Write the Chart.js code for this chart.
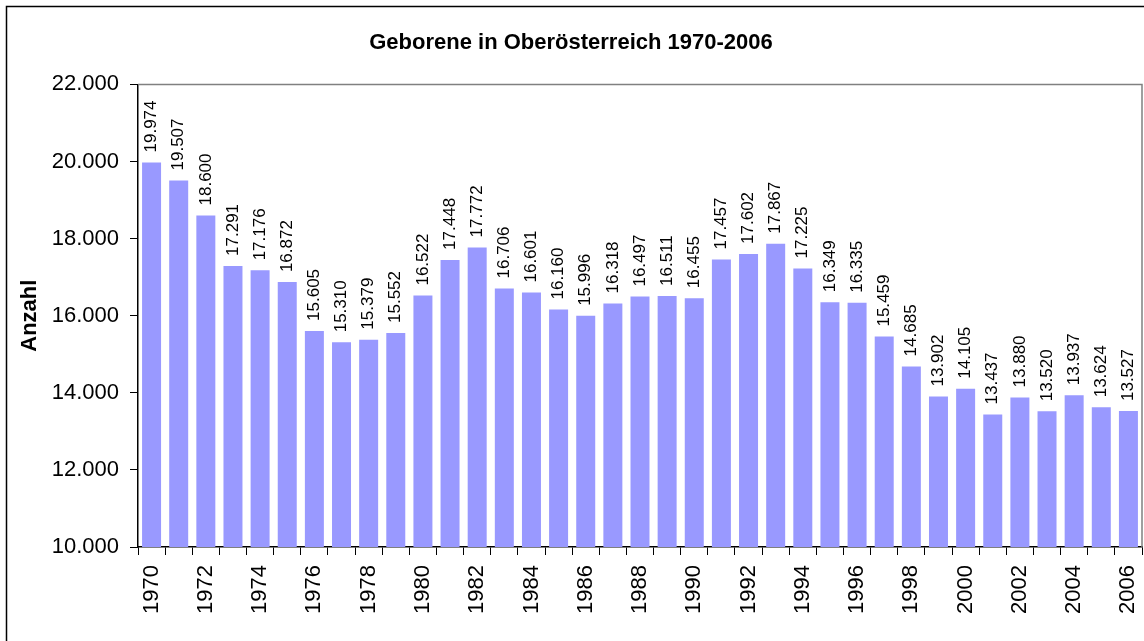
<!DOCTYPE html>
<html>
<head>
<meta charset="utf-8">
<script src="https://cdn.jsdelivr.net/npm/chart.js@4/dist/chart.umd.min.js"></script>
<style>
  html, body { margin: 0; padding: 0; background: #fff; }
  #wrap { width: 1144px; height: 641px; position: relative; }
</style>
</head>
<body>
<div id="wrap"><canvas id="birthChart"></canvas></div>
<script>
// Geborene in Oberösterreich, 1970-2006
var years = ["1970", "1971", "1972", "1973", "1974", "1975", "1976", "1977", "1978", "1979",
    "1980", "1981", "1982", "1983", "1984", "1985", "1986", "1987", "1988", "1989",
    "1990", "1991", "1992", "1993", "1994", "1995", "1996", "1997", "1998", "1999",
    "2000", "2001", "2002", "2003", "2004", "2005", "2006"];
var births = [19974, 19507, 18600, 17291, 17176, 16872, 15605, 15310, 15379, 15552,
    16522, 17448, 17772, 16706, 16601, 16160, 15996, 16318, 16497, 16511,
    16455, 17457, 17602, 17867, 17225, 16349, 16335, 15459, 14685, 13902,
    14105, 13437, 13880, 13520, 13937, 13624, 13527];
var yMin = 10000, yMax = 22000, yStep = 2000;

var fontName = "'Liberation Sans', Arial, sans-serif";

function fmt(n) {
    // 19974 -> "19.974"
    return String(Math.round(n)).replace(/\B(?=(\d{3})+(?!\d))/g, ".");
}

// frame round the whole object + gray border on top/right of plot area
var framePlugin = {
    id: 'frame',
    afterDraw: function (chart) {
        var ctx = chart.ctx, a = chart.chartArea;
        ctx.save();
        ctx.strokeStyle = '#000';
        ctx.lineWidth = 1.5;
        ctx.beginPath();
        ctx.moveTo(6.5, chart.height + 2);
        ctx.lineTo(6.5, 6.5);
        ctx.lineTo(chart.width + 2, 6.5);
        ctx.stroke();
        ctx.strokeStyle = '#808080';
        ctx.lineWidth = 1.5;
        ctx.beginPath();
        ctx.moveTo(a.left, a.top);
        ctx.lineTo(a.right, a.top);
        ctx.lineTo(a.right, a.bottom);
        ctx.stroke();
        ctx.restore();
    }
};

// value labels, rotated, above each bar
var valueLabels = {
    id: 'valueLabels',
    afterDatasetsDraw: function (chart) {
        var ctx = chart.ctx;
        var meta = chart.getDatasetMeta(0);
        ctx.save();
        ctx.fillStyle = '#000';
        ctx.font = '17px ' + fontName;
        ctx.textAlign = 'left';
        ctx.textBaseline = 'middle';
        meta.data.forEach(function (bar, i) {
            ctx.save();
            ctx.translate(bar.x, bar.y - 10);
            ctx.rotate(-Math.PI / 2);
            ctx.fillText(fmt(births[i]), 0, 0);
            ctx.restore();
        });
        ctx.restore();
    }
};

var myBarChart = new Chart('birthChart', {
    type: 'bar',
    data: {
        labels: years,
        datasets: [{
            label: "Geborene",
            data: births,
            backgroundColor: '#9999FF',
            borderWidth: 0,
            barPercentage: 0.7,
            categoryPercentage: 1.0
        }]
    },
    options: {
        responsive: true,
        maintainAspectRatio: false,
        animation: false,
        layout: {
            padding: { left: 0, right: 2, top: 22, bottom: 0 }
        },
        plugins: {
            legend: { display: false },
            tooltip: { enabled: false },
            title: {
                display: true,
                text: 'Geborene in Oberösterreich 1970-2006',
                color: '#000',
                font: { family: fontName, size: 22, weight: 'bold', lineHeight: 1.2 },
                padding: { top: 8, bottom: 28 }
            }
        },
        scales: {
            x: {
                grid: {
                    display: true,
                    offset: true,
                    drawOnChartArea: false,
                    drawTicks: true,
                    tickLength: 8,
                    color: '#000'
                },
                border: { display: true, color: '#000', width: 1.5 },
                ticks: {
                    autoSkip: false,
                    maxRotation: 90,
                    minRotation: 90,
                    padding: 10,
                    color: '#000',
                    font: { family: fontName, size: 22 },
                    callback: function (v, i) {
                        return i % 2 === 0 ? years[i] : '';
                    }
                },
                afterFit: function (scale) {
                    scale.height = 94;
                    scale.paddingLeft = 0;
                    scale.paddingRight = 0;
                }
            },
            y: {
                min: yMin,
                max: yMax,
                grid: {
                    display: true,
                    drawOnChartArea: false,
                    drawTicks: true,
                    tickLength: 8,
                    color: '#000'
                },
                border: { display: true, color: '#000', width: 1.5 },
                ticks: {
                    stepSize: yStep,
                    padding: 11,
                    color: '#000',
                    font: { family: fontName, size: 22 },
                    callback: function (v) { return fmt(v); }
                },
                title: {
                    display: true,
                    text: 'Anzahl',
                    color: '#000',
                    font: { family: fontName, size: 22, weight: 'bold', lineHeight: 1.2 },
                    padding: { top: 17, bottom: 0 }
                },
                afterFit: function (scale) {
                    scale.width = 138;
                    scale.paddingTop = 0;
                    scale.paddingBottom = 0;
                }
            }
        }
    },
    plugins: [framePlugin, valueLabels]
});
</script>
</body>
</html>
